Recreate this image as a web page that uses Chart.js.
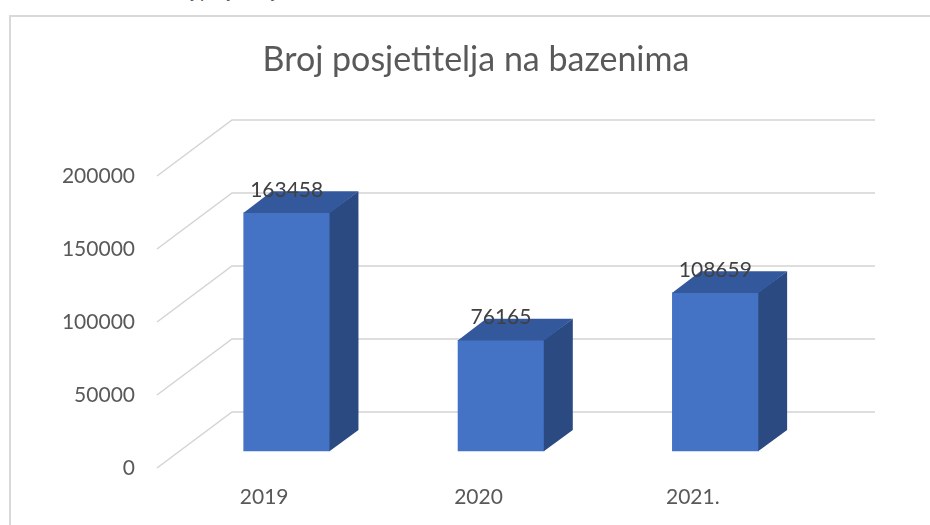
<!DOCTYPE html>
<html lang="hr">
<head>
<meta charset="utf-8">
<title>Broj posjetitelja na bazenima</title>
<script src="https://cdn.jsdelivr.net/npm/chart.js@4.4.1/dist/chart.umd.min.js"></script>
<style>
    html, body { margin: 0; padding: 0; background: #fff; }
    #wrap { position: relative; width: 930px; height: 525px; overflow: hidden; }
    #frame {
        position: absolute; left: 9px; top: 15px; right: -10px; bottom: -10px;
        border-left: 2px solid #d9d9d9; border-top: 2px solid #d9d9d9;
    }
    #caption {
        position: absolute; left: 165px; top: -21px;
        font: italic 19px Lato, sans-serif; color: #595959; white-space: nowrap;
    }
    #chart-box { position: absolute; left: 0; top: 0; width: 930px; height: 525px; }
</style>
</head>
<body>
<div id="wrap">
    <div id="caption">Broj posjetitelja na bazenima</div>
    <div id="frame"></div>
    <div id="chart-box"><canvas id="chart-visitors"></canvas></div>
</div>
<script>
// --- Data ---
const categories = ['2019', '2020', '2021.'];
const visitors = [163458, 76165, 108659];
const yTicks = [0, 50000, 100000, 150000, 200000];
const chartTitle = 'Broj posjetitelja na bazenima';

// --- 3D look (Excel style box) ---
const DEPTH_X = 75;      // how far the back wall sits to the right
const DEPTH_Y = -56;     // and up
const BAR_FRONT = 0.3;   // bar front face, as a share of the depth
const BAR_BACK = 0.68;   // bar back face
const COLOR_FRONT = '#4472c4';
const COLOR_TOP = '#34589c';
const COLOR_SIDE = '#2b4a82';
const GRID = '#d4d4d4';
const TEXT = '#595959';

Chart.defaults.font.family = "Lato, 'Open Sans', sans-serif";

const box3d = {
    id: 'box3d',
    beforeDatasetsDraw(chart) {
        const { ctx, chartArea: a, scales: { y } } = chart;
        // gridlines on the back wall, with the slanted lines towards the front labels
        ctx.save();
        ctx.strokeStyle = GRID;
        ctx.lineWidth = 1.5;
        yTicks.forEach(v => {
            const py = y.getPixelForValue(v);
            ctx.beginPath();
            ctx.moveTo(a.left, py);
            ctx.lineTo(a.left + DEPTH_X, py + DEPTH_Y);
            ctx.lineTo(a.right + DEPTH_X, py + DEPTH_Y);
            ctx.stroke();
        });
        ctx.restore();

        // push the bars back into the box; restored in afterDatasetsDraw
        ctx.save();
        ctx.translate(DEPTH_X * BAR_FRONT, DEPTH_Y * BAR_FRONT);
    },
    afterDatasetsDraw(chart) {
        const { ctx } = chart;
        const dx = DEPTH_X * (BAR_BACK - BAR_FRONT);
        const dy = DEPTH_Y * (BAR_BACK - BAR_FRONT);

        chart.getDatasetMeta(0).data.forEach((bar, i) => {
            const { x, y, base, width } = bar.getProps(['x', 'y', 'base', 'width'], true);
            const l = x - width / 2;
            const r = x + width / 2;

            // right side
            ctx.fillStyle = COLOR_SIDE;
            ctx.beginPath();
            ctx.moveTo(r - 0.5, y);
            ctx.lineTo(r + dx, y + dy);
            ctx.lineTo(r + dx, base + dy);
            ctx.lineTo(r - 0.5, base);
            ctx.closePath();
            ctx.fill();

            // top
            ctx.fillStyle = COLOR_TOP;
            ctx.beginPath();
            ctx.moveTo(l, y + 0.5);
            ctx.lineTo(r, y + 0.5);
            ctx.lineTo(r + dx, y + dy);
            ctx.lineTo(l + dx, y + dy);
            ctx.closePath();
            ctx.fill();

            // value label
            ctx.fillStyle = '#404040';
            ctx.font = "21px Lato, 'Open Sans', sans-serif";
            ctx.textAlign = 'center';
            ctx.textBaseline = 'alphabetic';
            ctx.fillText(String(visitors[i]), x, y - 16);
        });
        ctx.restore();
    },
    afterDraw(chart) {
        const { ctx } = chart;
        ctx.save();
        ctx.fillStyle = TEXT;
        ctx.font = "34px Lato, 'Open Sans', sans-serif";
        ctx.textAlign = 'center';
        ctx.textBaseline = 'alphabetic';
        ctx.fillText(chartTitle, 476, 71);
        ctx.restore();
    }
};

document.addEventListener('DOMContentLoaded', () => {
    const ctx = document.getElementById('chart-visitors');
    new Chart(ctx, {
        type: 'bar',
        data: {
            labels: categories,
            datasets: [{
                data: visitors,
                backgroundColor: COLOR_FRONT,
                borderWidth: 0,
                categoryPercentage: 1,
                barPercentage: 0.404,
                clip: false
            }]
        },
        options: {
            responsive: true,
            maintainAspectRatio: false,
            animation: false,
            layout: { padding: { left: 0, top: 176, right: 130, bottom: 0 } },
            plugins: {
                legend: { display: false },
                title: { display: false },
                tooltip: { enabled: false }
            },
            scales: {
                x: {
                    grid: { display: false, drawTicks: false },
                    border: { display: false },
                    ticks: { color: TEXT, font: { size: 21 }, padding: 17, maxRotation: 0 },
                    afterFit: scale => { scale.height = 57; }
                },
                y: {
                    min: 0,
                    max: 200000,
                    grid: { display: false, drawTicks: false },
                    border: { display: false },
                    ticks: {
                        color: TEXT,
                        font: { size: 21 },
                        padding: 22,
                        callback: v => String(v)
                    },
                    afterBuildTicks: scale => { scale.ticks = yTicks.map(v => ({ value: v })); },
                    afterFit: scale => { scale.width = 157; }
                }
            }
        },
        plugins: [box3d]
    });
});
</script>
</body>
</html>
